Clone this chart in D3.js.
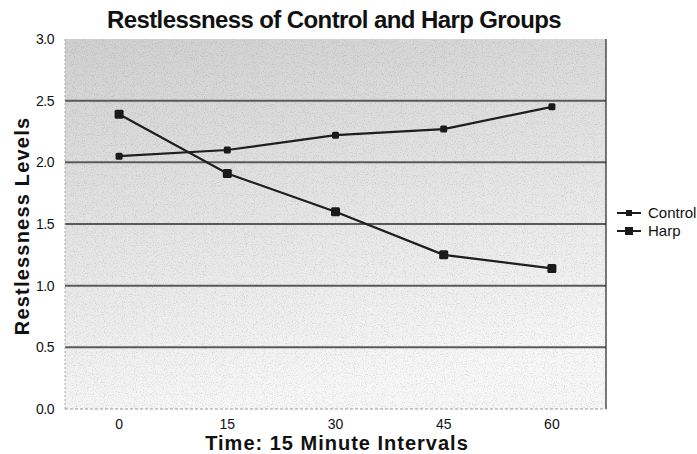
<!DOCTYPE html>
<html><head><meta charset="utf-8">
<script src="https://cdn.jsdelivr.net/npm/d3@7/dist/d3.min.js"></script>
<style>body{margin:0;background:#fff}svg{display:block}</style>
</head><body>
<script>
const categories = ["0", "15", "30", "45", "60"];
const controlValues = [2.05, 2.10, 2.22, 2.27, 2.45];
const harpValues = [2.39, 1.91, 1.60, 1.25, 1.14];
const yTicks = [0.0, 0.5, 1.0, 1.5, 2.0, 2.5, 3.0];
const seriesNames = ["Control", "Harp"];

const W = 697, H = 454;
const m = {left: 65, right: 91, top: 39, bottom: 45};
const svg = d3.select("body").append("svg").attr("width", W).attr("height", H);
const font = "'Liberation Sans', Arial, Helvetica, sans-serif";

const x = d3.scaleBand().domain(categories).range([m.left, W - m.right]);
const y = d3.scaleLinear().domain([0, 3]).range([H - m.bottom, m.top]);

const defs = svg.append("defs");
const grad = defs.append("linearGradient").attr("id", "bg").attr("x1", 0).attr("x2", 0.25).attr("y1", 0).attr("y2", 1);
grad.append("stop").attr("offset", "0%").attr("stop-color", "#d0d0d0");
grad.append("stop").attr("offset", "40%").attr("stop-color", "#e0e0e0");
grad.append("stop").attr("offset", "100%").attr("stop-color", "#f7f7f7");

const noise = defs.append("filter").attr("id", "noise").attr("x", 0).attr("y", 0).attr("width", "100%").attr("height", "100%");
noise.append("feTurbulence").attr("type", "fractalNoise").attr("baseFrequency", 0.9).attr("numOctaves", 2).attr("seed", 3);
noise.append("feColorMatrix").attr("type", "matrix")
  .attr("values", "0 0 0 0 0  0 0 0 0 0  0 0 0 0 0  0 0 0 1.6 -0.8");
defs.append("clipPath").attr("id", "plotclip").append("rect")
  .attr("x", m.left).attr("y", m.top).attr("width", W - m.right - m.left).attr("height", H - m.bottom - m.top);

svg.append("rect").attr("x", m.left).attr("y", m.top)
  .attr("width", W - m.right - m.left).attr("height", H - m.bottom - m.top)
  .attr("fill", "url(#bg)");
svg.append("rect").attr("x", m.left).attr("y", m.top)
  .attr("width", W - m.right - m.left).attr("height", H - m.bottom - m.top)
  .attr("filter", "url(#noise)").attr("opacity", 0.2).attr("clip-path", "url(#plotclip)");

// gridlines
svg.append("g").selectAll("line").data(yTicks.filter(d => d > 0 && d < 3)).join("line")
  .attr("x1", m.left).attr("x2", W - m.right)
  .attr("y1", d => y(d)).attr("y2", d => y(d))
  .attr("stroke", "#5a5a5a").attr("stroke-width", 2);

// right border
svg.append("line").attr("x1", W - m.right).attr("x2", W - m.right)
  .attr("y1", m.top).attr("y2", H - m.bottom).attr("stroke", "#222").attr("stroke-width", 1.2);
// bottom line
svg.append("line").attr("x1", m.left).attr("x2", W - m.right)
  .attr("y1", H - m.bottom).attr("y2", H - m.bottom).attr("stroke", "#999").attr("stroke-width", 1).attr("stroke-dasharray", "3,2");
// left edge
svg.append("line").attr("x1", m.left).attr("x2", m.left)
  .attr("y1", m.top).attr("y2", H - m.bottom).attr("stroke", "#aaa").attr("stroke-width", 1).attr("stroke-dasharray", "2,2");

// axes
const yAxis = svg.append("g").attr("transform", `translate(${m.left - 8},0)`)
  .call(d3.axisLeft(y).tickValues(yTicks).tickFormat(d3.format(".1f")).tickSize(0));
yAxis.select(".domain").remove();
yAxis.selectAll("text").attr("font-family", font).attr("font-size", 14).attr("fill", "#111").attr("letter-spacing", -0.5);

const xAxis = svg.append("g").attr("transform", `translate(0,${H - m.bottom + 7})`)
  .call(d3.axisBottom(x).tickSize(0));
xAxis.select(".domain").remove();
xAxis.selectAll("text").attr("font-family", font).attr("font-size", 14).attr("fill", "#111");

// lines
const line = d3.line().x((d, i) => x(categories[i]) + x.bandwidth() / 2).y(d => y(d));
const series = [
  {name: seriesNames[0], values: controlValues, size: 7},
  {name: seriesNames[1], values: harpValues, size: 9}
];
series.forEach(s => {
  svg.append("path").datum(s.values).attr("d", line)
    .attr("fill", "none").attr("stroke", "#1e1e1e").attr("stroke-width", 2.2);
  svg.append("g").selectAll("rect").data(s.values).join("rect")
    .attr("x", (d, i) => x(categories[i]) + x.bandwidth() / 2 - s.size / 2)
    .attr("y", d => y(d) - s.size / 2)
    .attr("width", s.size).attr("height", s.size)
    .attr("rx", 1.5)
    .attr("fill", "#1a1a1a");
});

// legend
const lg = svg.append("g").attr("transform", `translate(617,213)`);
series.forEach((s, i) => {
  const g = lg.append("g").attr("transform", `translate(0,${i * 18})`);
  g.append("line").attr("x1", 0).attr("x2", 24).attr("y1", 0).attr("y2", 0).attr("stroke", "#1e1e1e").attr("stroke-width", 2);
  g.append("rect").attr("x", 12 - s.size / 2 + 0.5).attr("y", -s.size / 2 + 0.5).attr("width", s.size - 1).attr("height", s.size - 1).attr("fill", "#1a1a1a");
  g.append("text").attr("x", 31).attr("y", 5).text(s.name)
    .attr("font-family", font).attr("font-size", 15).attr("fill", "#111");
});

// titles
svg.append("text").attr("x", 334).attr("y", 28).attr("text-anchor", "middle")
  .attr("font-family", font).attr("font-weight", "bold").attr("font-size", 24).attr("fill", "#111")
  .attr("letter-spacing", -0.6)
  .text("Restlessness of Control and Harp Groups");
svg.append("text").attr("transform", "translate(29,226) rotate(-90)").attr("text-anchor", "middle")
  .attr("font-family", font).attr("font-weight", "bold").attr("font-size", 20).attr("fill", "#111")
  .attr("letter-spacing", 1.2)
  .text("Restlessness  Levels");
svg.append("text").attr("x", 337).attr("y", 450).attr("text-anchor", "middle")
  .attr("font-family", font).attr("font-weight", "bold").attr("font-size", 20).attr("fill", "#111")
  .attr("letter-spacing", 1)
  .text("Time:  15  Minute  Intervals");
</script>
</body></html>
